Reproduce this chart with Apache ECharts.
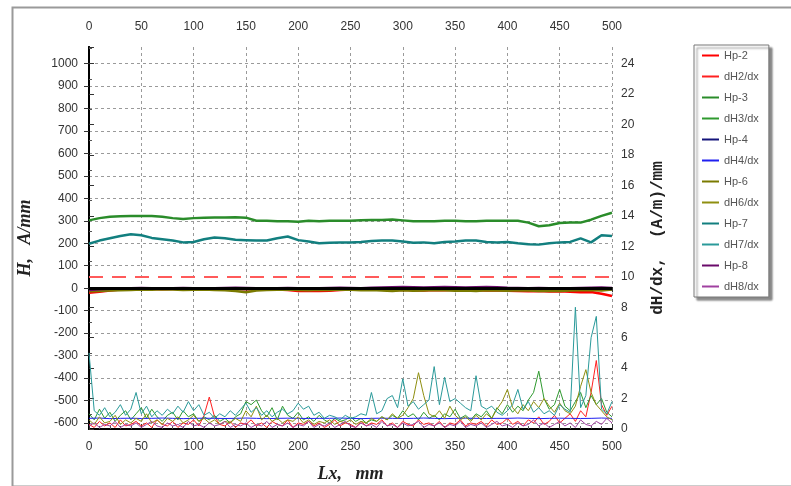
<!DOCTYPE html>
<html>
<head>
<meta charset="utf-8">
<script src="https://cdn.jsdelivr.net/npm/echarts@6/dist/echarts.min.js"></script>
<style>
html, body { margin: 0; padding: 0; background: #fff; }
#main { width: 791px; height: 486px; }
</style>
</head>
<body>
<div id="main"></div>
<script>
// x positions, mm
var xHp = [0,10,20,30,40,50,60,70,80,90,100,110,120,130,140,150,160,170,180,190,200,
    210,220,230,240,250,260,270,280,290,300,310,320,330,340,350,360,370,380,390,400,
    410,420,430,440,450,460,470,480,490,500];
var xDh = [0,5,10,15,20,25,30,35,40,45,50,55,60,65,70,75,80,85,90,95,100,
    105,110,115,120,125,130,135,140,145,150,155,160,165,170,175,180,185,190,195,200,
    205,210,215,220,225,230,235,240,245,250,255,260,265,270,275,280,285,290,295,300,
    305,310,315,320,325,330,335,340,345,350,355,360,365,370,375,380,385,390,395,400,
    405,410,415,420,425,430,435,440,445,450,455,460,465,470,475,480,485,490,495,500];

var leftTicks = [-600,-500,-400,-300,-200,-100,0,100,200,300,400,500,600,700,800,900,1000];
var dhLimit = 10;

// H, A/mm  (left axis), step 10 mm
var hp2 = [-20,-16,-10,-6,-4,-3,-4,-5,-4,-3,-4,-5,-4,-3,-4,-5,-6,-5,-6,-8,-12,
    -13,-12,-11,-8,-6,-5,-6,-7,-8,-7,-9,-10,-8,-9,-7,-8,-9,-10,-9,-11,
    -13,-14,-13,-15,-14,-16,-18,-17,-25,-35];
var hp3 = [302,312,318,320,322,322,321,318,312,308,312,314,315,315,316,314,300,300,298,298,296,
    300,298,300,300,300,302,304,304,306,302,298,298,298,300,300,298,298,300,300,300,
    300,292,276,280,290,292,292,305,322,336];
var hp4 = [-10,-6,-4,-3,-2,-2,-3,-2,-3,-2,-3,-2,-3,-4,-3,-4,-3,-2,-3,-2,-3,
    -4,-3,-2,-3,-2,-3,-2,-3,-4,-3,-2,-3,-4,-3,-2,-3,-4,-3,-2,-3,
    -4,-3,-2,-3,-4,-3,-2,-3,-5,-6];
var hp6 = [-14,-12,-10,-9,-8,-6,-7,-5,-6,-8,-7,-6,-8,-9,-12,-18,-10,-8,-7,-6,-8,
    -9,-7,-8,-6,-7,-9,-8,-10,-12,-9,-11,-10,-8,-9,-11,-10,-12,-9,-10,-11,
    -9,-10,-12,-11,-13,-10,-9,-8,-10,-6];
var hp7 = [198,212,222,232,240,236,224,218,212,204,206,218,226,222,216,214,212,212,222,230,214,
    208,200,202,204,204,206,210,212,212,208,202,204,200,206,208,212,212,206,204,206,
    200,196,194,200,204,206,222,204,236,232];
var hp8 = [-8,-5,-3,-1,0,1,0,-1,0,1,0,-1,0,1,2,1,0,-1,0,1,0,
    -1,0,1,2,1,0,2,3,4,5,4,3,4,5,4,3,4,5,4,2,
    1,0,1,0,-1,0,1,2,3,1];

// dH/dx, (A/m)/mm  (right axis), step 5 mm except dH4 (step 10)
var dh2 = [0.3,0.1,0.5,0.2,0.4,0.1,0.6,0.2,0.3,0.5,0.2,0.4,0.1,0.6,0.3,0.2,0.5,0.1,0.4,0.3,0.6,
    0.2,0.9,2.1,0.8,0.3,0.2,0.5,0.1,0.4,0.3,0.6,0.2,0.4,0.1,0.5,0.3,0.2,0.6,0.1,0.4,
    0.3,0.5,0.2,0.4,0.1,0.3,0.6,0.2,0.4,0.3,0.1,0.5,0.2,0.4,0.3,0.6,0.2,0.4,0.1,0.5,
    0.3,0.2,0.6,0.3,0.4,0.2,0.5,0.1,0.4,0.3,0.6,0.2,0.4,0.3,0.5,0.2,0.6,0.3,0.4,0.7,
    0.3,0.5,0.2,0.6,0.4,0.8,0.3,0.5,0.9,0.4,0.7,1.0,0.5,1.2,0.8,2.4,4.5,1.6,0.9,1.5];
var dh3 = [1.0,0.6,1.3,0.7,1.1,0.5,0.9,1.2,0.6,1.0,1.4,0.7,1.3,0.8,0.5,0.9,1.1,0.6,1.2,0.8,1.0,
    0.5,0.8,0.6,0.9,0.5,0.7,0.4,0.8,1.0,1.8,1.6,1.9,1.2,0.8,1.4,0.6,1.5,0.9,0.7,1.1,
    0.6,0.8,0.5,0.9,0.6,0.4,0.7,0.5,0.6,0.8,0.5,0.7,0.4,0.6,0.5,0.8,0.6,0.9,0.7,1.2,
    0.8,1.0,0.6,1.1,0.7,0.9,0.6,1.0,0.8,1.3,0.7,0.9,0.6,1.0,0.8,1.2,0.7,1.4,1.0,1.6,
    1.1,1.5,1.2,1.9,2.4,3.8,2.0,1.3,1.6,2.6,1.5,1.2,1.8,2.4,1.4,2.2,1.6,2.0,1.1,0.8];
var dh4 = [0.70,0.72,0.68,0.70,0.71,0.69,0.70,0.72,0.70,0.68,0.70,0.71,0.70,0.69,0.70,0.72,0.70,
    0.68,0.70,0.71,0.70,0.69,0.70,0.70,0.72,0.70,0.68,0.70,0.71,0.70,0.69,0.70,0.72,0.70,
    0.68,0.70,0.71,0.70,0.69,0.70,0.70,0.72,0.70,0.68,0.70,0.71,0.70,0.69,0.70,0.72,0.70];
var dh6 = [0.6,0.3,0.8,0.4,0.5,0.9,0.3,0.6,0.4,0.7,0.5,1.0,0.4,0.6,0.3,0.7,0.5,0.8,0.4,0.6,0.9,
    0.5,0.7,0.4,0.6,0.3,0.5,0.4,0.7,0.5,1.2,0.8,1.5,0.6,0.9,0.5,0.7,0.4,0.6,0.5,0.8,
    0.4,0.6,0.3,0.5,0.4,0.6,0.3,0.5,0.4,0.6,0.3,0.5,0.4,0.7,0.5,0.8,0.6,1.0,0.7,0.9,
    1.4,2.0,3.7,2.2,1.0,0.8,1.2,0.7,1.5,0.9,0.6,0.8,0.5,0.9,0.6,1.0,0.7,1.3,1.8,2.6,
    1.4,1.0,1.6,1.2,1.8,1.4,2.0,1.5,1.1,1.7,1.2,1.0,1.5,2.8,3.9,2.4,1.6,1.2,0.8,0.6];
var dh7 = [5.0,1.2,0.9,1.4,0.8,1.1,1.6,0.9,1.3,2.4,1.0,1.5,0.8,1.2,0.9,1.3,1.0,1.5,1.1,1.8,1.2,
    1.6,0.9,1.1,0.7,1.0,0.8,1.2,0.9,1.3,1.7,1.1,1.4,0.9,1.2,0.8,1.1,1.3,1.0,1.2,1.7,
    1.3,1.5,0.9,1.1,0.7,0.9,0.8,0.6,0.9,0.7,0.8,1.0,0.9,2.4,1.0,1.2,2.0,2.2,1.4,3.3,
    1.5,1.8,1.3,1.6,1.9,4.1,1.6,3.4,1.8,2.0,1.7,1.4,1.2,3.5,1.5,1.3,1.5,1.1,0.9,1.2,
    1.6,2.6,1.3,1.8,1.1,1.4,1.0,1.2,0.9,1.6,1.3,1.1,8.0,1.4,2.2,6.0,7.4,1.3,1.0,1.8];
var dh8 = [0.2,0.4,0.1,0.3,0.2,0.5,0.1,0.3,0.2,0.4,0.1,0.3,0.5,0.2,0.1,0.4,0.2,0.3,0.1,0.5,0.2,
    0.3,0.1,0.4,0.2,0.3,0.5,0.1,0.3,0.2,0.4,0.1,0.3,0.2,0.5,0.1,0.3,0.2,0.4,0.1,0.3,
    0.2,0.5,0.1,0.3,0.2,0.4,0.1,0.3,0.5,0.2,0.1,0.4,0.2,0.3,0.1,0.5,0.2,0.3,0.1,0.4,
    0.2,0.3,0.5,0.1,0.3,0.2,0.4,0.1,0.3,0.2,0.5,0.1,0.3,0.2,0.4,0.1,0.3,0.5,0.2,0.3,
    0.1,0.4,0.2,0.3,0.6,0.2,0.4,0.1,0.3,0.5,0.2,0.4,0.1,0.6,0.3,0.2,0.5,0.3,0.7,0.4];

function pairs(xs, ys) {
    return ys.map(function (y, i) { return [xs[i], y]; });
}

function hpLine(name, color, xs, ys) {
    return {
        name: name, type: 'line', xAxisIndex: 0, yAxisIndex: 0,
        data: pairs(xs, ys), showSymbol: false, symbol: 'none', color: color,
        lineStyle: { width: 2.5, color: color }
    };
}
function dhLine(name, color, xs, ys) {
    return {
        name: name, type: 'line', xAxisIndex: 0, yAxisIndex: 1,
        data: pairs(xs, ys), showSymbol: false, symbol: 'none', color: color,
        lineStyle: { width: 1, color: color }
    };
}

var series = [
    hpLine('Hp-2', '#ff0000', xHp, hp2),
    dhLine('dH2/dx', '#ff2020', xDh, dh2),
    hpLine('Hp-3', '#2a8c2a', xHp, hp3),
    dhLine('dH3/dx', '#2f9a2f', xDh, dh3),
    hpLine('Hp-4', '#14147a', xHp, hp4),
    dhLine('dH4/dx', '#2020f0', xHp, dh4),
    hpLine('Hp-6', '#7a7a00', xHp, hp6),
    dhLine('dH6/dx', '#8f8f10', xDh, dh6),
    hpLine('Hp-7', '#127f7f', xHp, hp7),
    dhLine('dH7/dx', '#2a9a9a', xDh, dh7),
    hpLine('Hp-8', '#6a0a6a', xHp, hp8),
    dhLine('dH8/dx', '#a040a0', xDh, dh8)
];
// threshold and zero line
series[1].markLine = {
    silent: true, symbol: 'none', label: { show: false },
    lineStyle: { color: '#ff5a5a', type: [14, 9], width: 2 },
    data: [{ yAxis: dhLimit }]
};
series[10].markLine = {
    silent: true, symbol: 'none', label: { show: false },
    lineStyle: { color: '#000', type: 'solid', width: 3 },
    data: [{ yAxis: 0 }]
};

function plain(v) { return String(v); }
var labelFont = { fontFamily: 'Liberation Sans', fontSize: 12, color: '#333', formatter: plain };
var gridDash = { show: true, lineStyle: { color: '#9a9a9a', type: [3, 3], width: 1 } };
var blackLine = { show: true, lineStyle: { color: '#000', width: 2 } };
var nameFont = { fontFamily: 'Liberation Serif', fontStyle: 'italic', fontWeight: 'bold', fontSize: 18, color: '#222' };

var myChart = echarts.init(document.getElementById('main'), null, { renderer: 'canvas' });
myChart.setOption({
    animation: false,
    backgroundColor: '#fff',
    graphic: [{
        type: 'rect', left: 10, top: 5, silent: true,
        shape: { width: 800, height: 479 },
        style: { fill: 'none', stroke: '#9a9a9a', lineWidth: 2 }
    }],
    grid: { left: 89, right: 179, top: 47, bottom: 57, outerBoundsMode: 'none', containLabel: false },
    legend: {
        orient: 'vertical', left: 694, top: 45,
        itemWidth: 17, itemHeight: 10, itemGap: 10,
        padding: [5, 10, 5, 7],
        itemStyle: { opacity: 0 },
        backgroundColor: '#fff', borderColor: '#777', borderWidth: 1,
        shadowColor: 'rgba(0,0,0,0.45)', shadowBlur: 2, shadowOffsetX: 3, shadowOffsetY: 3,
        textStyle: { fontFamily: 'Liberation Sans', fontSize: 11, color: '#555' }
    },
    xAxis: [{
        type: 'value', position: 'bottom', min: 0, max: 500, interval: 50,
        name: 'Lx,   mm', nameLocation: 'middle', nameGap: 36,
        nameTextStyle: nameFont,
        axisLine: blackLine,
        axisTick: { show: true, length: 4, lineStyle: { color: '#333' } },
        axisLabel: Object.assign({ margin: 12 }, labelFont),
        splitLine: gridDash
    }, {
        type: 'value', position: 'top', min: 0, max: 500, interval: 50,
        axisLine: blackLine,
        axisTick: { show: true, length: 5, lineStyle: { color: '#333' } },
        minorTick: { show: true, splitNumber: 5, length: 3, lineStyle: { color: '#555' } },
        axisLabel: Object.assign({ margin: 14 }, labelFont),
        splitLine: { show: false }
    }],
    yAxis: [{
        type: 'value', position: 'left', min: -627, max: 1074,
        name: 'H,   A/mm', nameLocation: 'middle', nameGap: 55, nameRotate: 90,
        nameTextStyle: nameFont,
        axisLine: blackLine,
        axisTick: { show: true, length: 5, customValues: leftTicks, lineStyle: { color: '#333' } },
        axisLabel: Object.assign({ margin: 11, customValues: leftTicks }, labelFont),
        splitLine: gridDash
    }, {
        type: 'value', position: 'right', min: 0, max: 25.1, interval: 2,
        name: 'dH/dx,  (A/m)/mm', nameLocation: 'middle', nameGap: 38, nameRotate: 90,
        nameTextStyle: { fontFamily: 'Liberation Mono', fontWeight: 'bold', fontSize: 16, color: '#222' },
        axisLine: blackLine,
        axisTick: { show: true, length: 5, lineStyle: { color: '#333' } },
        minorTick: { show: true, splitNumber: 2, length: 3, lineStyle: { color: '#555' } },
        axisLabel: Object.assign({ margin: 9, showMaxLabel: false }, labelFont),
        splitLine: { show: false }
    }],
    series: series
});
</script>
</body>
</html>
